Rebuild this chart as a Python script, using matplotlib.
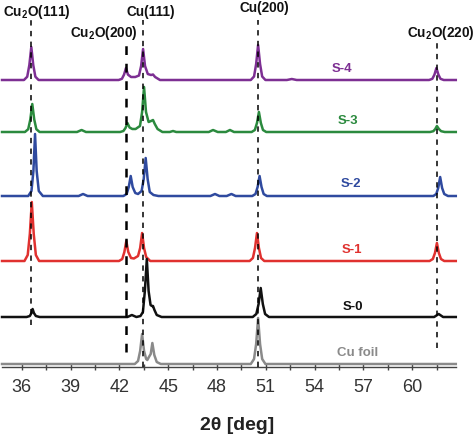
"""
XRD patterns of Cu foil and samples S-0 ... S-4, stacked with offsets.
"""

import matplotlib
matplotlib.use("Agg")
import matplotlib.pyplot as plt
from matplotlib.ticker import MultipleLocator

matplotlib.rcParams['font.family'] = ['Liberation Sans', 'DejaVu Sans']
matplotlib.rcParams['mathtext.fontset'] = 'custom'
matplotlib.rcParams['mathtext.rm'] = 'Liberation Sans:bold'
matplotlib.rcParams['mathtext.bf'] = 'Liberation Sans:bold'

# ---- data: (2theta, intensity above own baseline) ----
S4 = [(34.79, 0), (36.14, 0), (36.34, 3.3), (36.47, 15), (36.59, 33), (36.71, 15), (36.84, 3.3), (37.04, 0),
      (41.96, 0), (42.16, 1.2), (42.29, 5.4), (42.41, 12), (42.53, 5.4), (42.72, 3), (42.98, 3),
      (43.21, 4.5), (43.34, 14), (43.46, 31), (43.58, 14), (43.75, 6), (43.95, 5), (44.07, 5.5),
      (44.2, 3), (44.5, 0),
      (50.08, 0), (50.28, 3.5), (50.41, 16), (50.53, 35), (50.65, 16), (50.78, 3.5), (50.98, 0),
      (52.3, 0), (52.6, 1), (52.9, 0),
      (61.04, 0), (61.24, 1.2), (61.37, 5.4), (61.49, 12), (61.61, 5.4), (61.74, 1.2), (61.94, 0), (62.68, 0)]

S3 = [(34.79, 0), (36.2, 0), (36.4, 2.8), (36.53, 12.6), (36.65, 28), (36.77, 12.6), (36.9, 2.8), (37.1, 0),
      (39.4, 0), (39.68, 2), (39.95, 0),
      (42.05, 0), (42.25, 1), (42.38, 4), (42.5, 9), (42.63, 4.5), (42.8, 3), (43.0, 3), (43.27, 6),
      (43.4, 20), (43.52, 45), (43.64, 20), (43.8, 10), (43.95, 11), (44.07, 12), (44.18, 8),
      (44.35, 3), (44.65, 0),
      (45.1, 0), (45.3, 1), (45.5, 0),
      (47.5, 0), (47.76, 2), (48.05, 0), (48.55, 0), (48.8, 2), (49.05, 0),
      (50.13, 0), (50.33, 2), (50.46, 9), (50.58, 20), (50.7, 9), (50.83, 2), (51.03, 0),
      (61.1, 0), (61.3, 0.8), (61.42, 3), (61.52, 6), (61.64, 3), (61.78, 0.8), (62.0, 0), (62.68, 0)]

S2 = [(34.79, 0), (36.4, 0), (36.6, 5), (36.72, 25), (36.82, 62), (36.92, 25), (37.05, 5), (37.3, 0),
      (39.5, 0), (39.77, 2), (40.05, 0),
      (42.25, 0), (42.45, 2), (42.58, 9), (42.7, 20), (42.82, 9), (42.98, 3), (43.15, 2), (43.37, 5),
      (43.5, 17), (43.62, 38), (43.74, 17), (43.87, 4), (44.1, 1), (44.4, 0),
      (47.6, 0), (47.88, 2), (48.15, 0), (48.6, 0), (48.89, 2), (49.15, 0),
      (50.17, 0), (50.37, 2), (50.5, 9), (50.62, 20), (50.74, 9), (50.87, 2), (51.07, 0),
      (61.3, 0), (61.48, 2), (61.6, 8), (61.72, 19), (61.84, 8), (61.97, 2), (62.2, 0), (62.68, 0)]

S1 = [(34.79, 0), (36.17, 0), (36.37, 6), (36.5, 27), (36.62, 59), (36.74, 27), (36.87, 6), (37.07, 0),
      (41.98, 0), (42.18, 2), (42.31, 9), (42.43, 20), (42.55, 9), (42.72, 3), (42.9, 2.5),
      (43.15, 5), (43.28, 13), (43.4, 28), (43.52, 13), (43.65, 4), (43.9, 0),
      (50.01, 0), (50.21, 3), (50.34, 13), (50.46, 28), (50.58, 13), (50.71, 3), (50.91, 0),
      (61.07, 0), (61.27, 2), (61.4, 8), (61.52, 18), (61.64, 8), (61.77, 2), (61.97, 0), (62.68, 0)]

S0 = [(34.79, 0), (36.3, 0), (36.5, 1), (36.6, 4), (36.67, 8), (36.75, 4), (36.87, 1), (37.1, 0),
      (42.5, 0), (42.77, 2), (43.05, 0), (43.3, 1), (43.45, 5), (43.57, 26), (43.69, 58), (43.8, 26),
      (43.92, 12), (44.0, 11), (44.07, 11), (44.16, 7), (44.3, 2), (44.6, 0),
      (50.2, 0), (50.42, 3), (50.56, 13), (50.69, 29), (50.82, 13), (50.96, 3), (51.2, 0),
      (61.35, 0), (61.63, 3), (61.9, 0), (62.68, 0)]

FOIL = [(34.79, 0), (42.95, 0), (43.15, 3), (43.28, 13), (43.4, 30), (43.52, 13), (43.65, 5),
        (43.72, 4), (43.82, 7), (43.93, 10), (44.03, 21), (44.15, 9), (44.3, 2), (44.55, 0),
        (50.08, 0), (50.28, 5), (50.41, 20), (50.53, 46), (50.65, 20), (50.78, 5), (50.98, 0), (62.68, 0)]

names = ["S-4", "S-3", "S-2", "S-1", "S-0", "Cu foil"]
patterns = [S4, S3, S2, S1, S0, FOIL]
offsets = [287, 235, 171, 106, 50, 3]
colors = ["#7d2f93", "#2b8a3e", "#2f4a9f", "#e0312f", "#111111", "#8a8a8a"]
label_pos = [(55.69, 298), (56.06, 246), (56.22, 183), (56.28, 117), (56.37, 60), (56.65, 14)]

# reference lines: position, y span, label, label position
ref_pos = [36.6, 42.4, 43.45, 50.5, 61.5]
ref_span = [(42, 347), (15, 327), (0, 347), (0, 347), (19, 327)]
ref_labels = [r"Cu$_2$O(111)", r"Cu$_2$O(200)", "Cu(111)", "Cu(200)", r"Cu$_2$O(220)"]
ref_label_xy = [(36.94, 355), (41.03, 334), (43.94, 355), (50.9, 359), (61.77, 334)]
ref_lw = [1.1, 1.8, 1.1, 1.1, 1.1]

W, H = 474, 434
fig = plt.figure(figsize=(W / 100, H / 100), dpi=100)
ax = fig.add_axes([0, 67 / H, 1, 367 / H])

for pts, off, col in zip(patterns, offsets, colors):
    xs = [p[0] for p in pts]
    ys = [p[1] + off for p in pts]
    ax.plot(xs, ys, color=col, lw=1.8, solid_joinstyle="round", zorder=2)

for name, (lx, ly), col in zip(names, label_pos, colors):
    ax.text(lx, ly, name, color=col, fontsize=9.5, fontweight="bold", ha="center", va="center")

for x, (y0, y1), lw in zip(ref_pos, ref_span, ref_lw):
    ax.plot([x, x], [y0, y1], color="black", lw=lw, ls=(0, (3.5, 3.5)), zorder=3)

for lab, (lx, ly) in zip(ref_labels, ref_label_xy):
    ax.text(lx, ly, lab, fontsize=9.8, fontweight="bold", ha="center", va="center", color="#111111")

ax.set_xlim(36 - 21.7 / 16.27, 36 + (W - 21.7) / 16.27)
ax.set_ylim(0, 367)

for s in ["top", "right", "left"]:
    ax.spines[s].set_visible(False)
ax.spines["bottom"].set_bounds(34.79, 62.68)
ax.spines["bottom"].set_color("#444444")
ax.spines["bottom"].set_linewidth(1.0)
ax.set_yticks([])

ax.xaxis.set_major_locator(MultipleLocator(3))
ax.xaxis.set_minor_locator(MultipleLocator(1.5))
ax.tick_params(axis="x", which="both", direction="inout", length=5, width=1.0, color="#444444")
ax.tick_params(axis="x", which="major", labelsize=13, labelcolor="#333333", pad=6)
ax.set_xticks([36, 39, 42, 45, 48, 51, 54, 57, 60])
ax.set_xticks([37.5, 40.5, 43.5, 46.5, 49.5, 52.5, 55.5, 58.5, 61.5], minor=True)

ax.set_xlabel("2θ [deg]", fontsize=14, fontweight="bold", color="#222222", labelpad=15)

fig.savefig("out.png", dpi=100)
